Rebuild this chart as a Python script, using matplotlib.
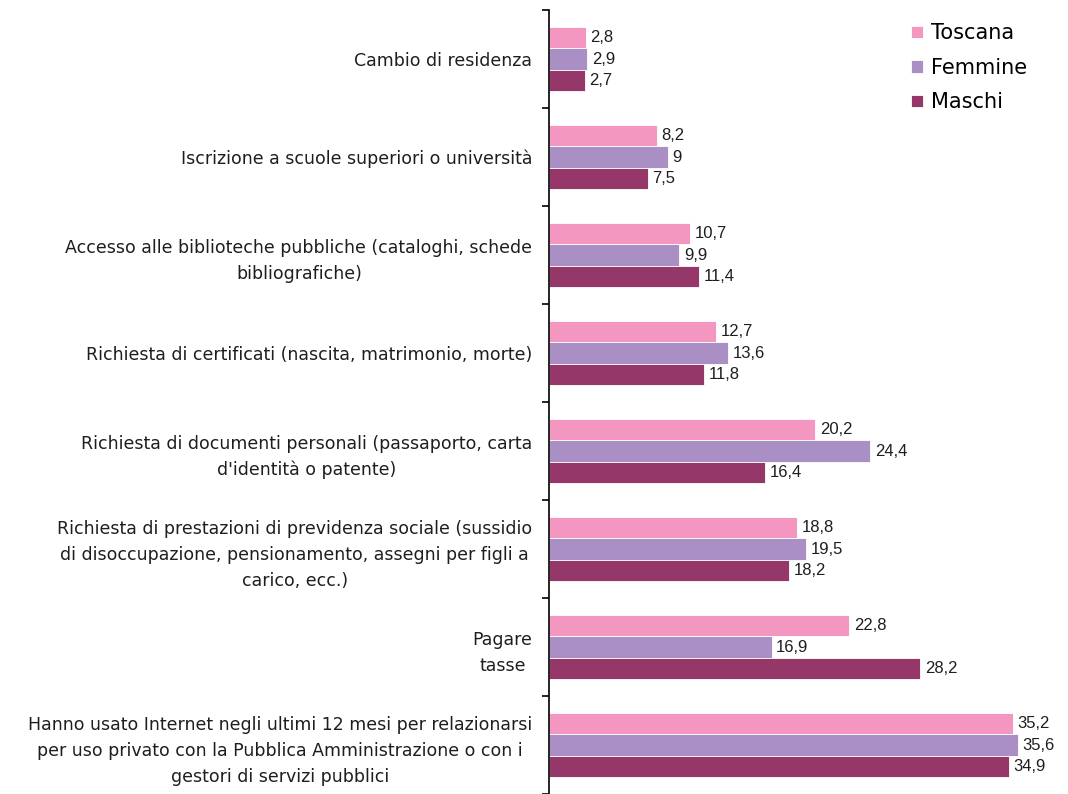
import matplotlib
matplotlib.use("Agg")
import matplotlib.pyplot as plt
import numpy as np

plt.rcParams['font.family'] = ['Liberation Sans', 'DejaVu Sans']

categories = [
    "Cambio di residenza",
    "Iscrizione a scuole superiori o università",
    "Accesso alle biblioteche pubbliche (cataloghi, schede\nbibliografiche)",
    "Richiesta di certificati (nascita, matrimonio, morte)",
    "Richiesta di documenti personali (passaporto, carta\nd'identità o patente)",
    "Richiesta di prestazioni di previdenza sociale (sussidio\ndi disoccupazione, pensionamento, assegni per figli a\ncarico, ecc.)",
    "Pagare\ntasse",
    "Hanno usato Internet negli ultimi 12 mesi per relazionarsi\nper uso privato con la Pubblica Amministrazione o con i\ngestori di servizi pubblici",
]
series_names = ["Toscana", "Femmine", "Maschi"]
toscana = [2.8, 8.2, 10.7, 12.7, 20.2, 18.8, 22.8, 35.2]
femmine = [2.9, 9, 9.9, 13.6, 24.4, 19.5, 16.9, 35.6]
maschi = [2.7, 7.5, 11.4, 11.8, 16.4, 18.2, 28.2, 34.9]
colors = ['#F497C0', '#AA8FC4', '#953769']

W, H = 1068, 794
fig = plt.figure(figsize=(W/100, H/100), dpi=100)
ax = fig.add_axes([549/W, 0, (W-549)/W, (794-10)/H])

y = np.arange(len(categories))
bh = 0.22
for i, (name, vals, c) in enumerate(zip(series_names, [toscana, femmine, maschi], colors)):
    pos = y + (i-1)*bh
    ax.barh(pos, vals, height=bh, color=c, label=name, edgecolor='white', linewidth=0.6)
    for p, v in zip(pos, vals):
        ax.text(v + 0.35, p, f"{v:g}".replace('.', ','), va='center', ha='left',
                fontsize=12, color='#1e1e1e')

ax.set_xlim(0, 39.4)
ax.set_ylim(7.5, -0.5)
for s in ['top', 'right', 'bottom']:
    ax.spines[s].set_visible(False)
ax.spines['left'].set_linewidth(1.2)
ax.set_xticks([])
ax.set_yticks(y)
ax.set_yticklabels(categories, fontsize=12.5, color='#1e1e1e', multialignment='center',
                   family=['DejaVu Sans'])
for t in ax.get_yticklabels():
    t.set_linespacing(1.55)
ax.tick_params(axis='y', which='major', length=0, pad=12)
ax.set_yticks(np.arange(-0.5, 8.0, 1.0), minor=True)
ax.tick_params(axis='y', which='minor', length=5, width=1.2, direction='out')

leg = fig.legend(loc='upper left', bbox_to_anchor=(903/W, 1 - 15/H), frameon=False,
                 prop={'family': 'DejaVu Sans', 'size': 15},
                 handlelength=0.55, handleheight=0.55, handletextpad=0.4,
                 labelspacing=0.7, borderaxespad=0.0)

fig.savefig("out.png", dpi=100)
